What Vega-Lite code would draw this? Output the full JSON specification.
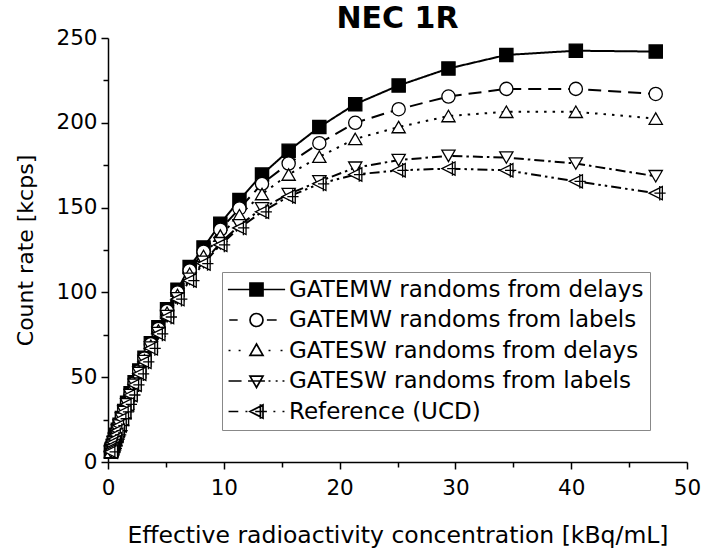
{
  "$schema": "https://vega.github.io/schema/vega-lite/v6.json",
  "autosize": {"type": "none"},
  "width": 579,
  "height": 424,
  "padding": {"left": 108, "top": 38, "right": 22, "bottom": 93},
  "config": {
    "font": "DejaVu Sans",
    "view": {"stroke": null},
    "axis": {"domainColor": "black", "domainWidth": 1.5, "tickColor": "black", "tickWidth": 1.5, "labelColor": "black", "titleColor": "black", "labelFont": "DejaVu Sans", "titleFont": "DejaVu Sans", "labelFontSize": 21.5, "titleFontSize": 22, "titleFontWeight": "normal", "grid": false, "labelFlush": false, "labelOverlap": false}
  },
  "title": {"text": "NEC 1R", "font": "DejaVu Sans", "fontSize": 30, "fontWeight": "bold", "color": "black", "anchor": "middle", "baseline": "alphabetic", "offset": -31},
  "data": {"values": [
    {"conc": 47.3, "rate": 242, "series": "GATEMW randoms from delays"},
    {"conc": 40.4, "rate": 242.5, "series": "GATEMW randoms from delays"},
    {"conc": 34.4, "rate": 240, "series": "GATEMW randoms from delays"},
    {"conc": 29.4, "rate": 232, "series": "GATEMW randoms from delays"},
    {"conc": 25.1, "rate": 222, "series": "GATEMW randoms from delays"},
    {"conc": 21.35, "rate": 211, "series": "GATEMW randoms from delays"},
    {"conc": 18.25, "rate": 197.5, "series": "GATEMW randoms from delays"},
    {"conc": 15.6, "rate": 183.5, "series": "GATEMW randoms from delays"},
    {"conc": 13.3, "rate": 169.5, "series": "GATEMW randoms from delays"},
    {"conc": 11.35, "rate": 154.5, "series": "GATEMW randoms from delays"},
    {"conc": 9.7, "rate": 140.5, "series": "GATEMW randoms from delays"},
    {"conc": 8.25, "rate": 126.5, "series": "GATEMW randoms from delays"},
    {"conc": 7.05, "rate": 115, "series": "GATEMW randoms from delays"},
    {"conc": 6.0, "rate": 101.5, "series": "GATEMW randoms from delays"},
    {"conc": 5.1, "rate": 90, "series": "GATEMW randoms from delays"},
    {"conc": 4.35, "rate": 79.5, "series": "GATEMW randoms from delays"},
    {"conc": 3.7, "rate": 70, "series": "GATEMW randoms from delays"},
    {"conc": 3.15, "rate": 61.5, "series": "GATEMW randoms from delays"},
    {"conc": 2.7, "rate": 54, "series": "GATEMW randoms from delays"},
    {"conc": 2.3, "rate": 47, "series": "GATEMW randoms from delays"},
    {"conc": 1.95, "rate": 40.5, "series": "GATEMW randoms from delays"},
    {"conc": 1.65, "rate": 35, "series": "GATEMW randoms from delays"},
    {"conc": 1.4, "rate": 30, "series": "GATEMW randoms from delays"},
    {"conc": 1.2, "rate": 26, "series": "GATEMW randoms from delays"},
    {"conc": 1.0, "rate": 22, "series": "GATEMW randoms from delays"},
    {"conc": 0.85, "rate": 19, "series": "GATEMW randoms from delays"},
    {"conc": 0.72, "rate": 16, "series": "GATEMW randoms from delays"},
    {"conc": 0.6, "rate": 13.5, "series": "GATEMW randoms from delays"},
    {"conc": 0.5, "rate": 11.5, "series": "GATEMW randoms from delays"},
    {"conc": 0.42, "rate": 9.5, "series": "GATEMW randoms from delays"},
    {"conc": 0.35, "rate": 8, "series": "GATEMW randoms from delays"},
    {"conc": 0.3, "rate": 7, "series": "GATEMW randoms from delays"},
    {"conc": 0.25, "rate": 6, "series": "GATEMW randoms from delays"},

    {"conc": 47.3, "rate": 217, "series": "GATEMW randoms from labels"},
    {"conc": 40.4, "rate": 220, "series": "GATEMW randoms from labels"},
    {"conc": 34.4, "rate": 220, "series": "GATEMW randoms from labels"},
    {"conc": 29.4, "rate": 215.5, "series": "GATEMW randoms from labels"},
    {"conc": 25.1, "rate": 208, "series": "GATEMW randoms from labels"},
    {"conc": 21.35, "rate": 200, "series": "GATEMW randoms from labels"},
    {"conc": 18.25, "rate": 188, "series": "GATEMW randoms from labels"},
    {"conc": 15.6, "rate": 176, "series": "GATEMW randoms from labels"},
    {"conc": 13.3, "rate": 164, "series": "GATEMW randoms from labels"},
    {"conc": 11.35, "rate": 149.5, "series": "GATEMW randoms from labels"},
    {"conc": 9.7, "rate": 137, "series": "GATEMW randoms from labels"},
    {"conc": 8.25, "rate": 124, "series": "GATEMW randoms from labels"},
    {"conc": 7.05, "rate": 113, "series": "GATEMW randoms from labels"},
    {"conc": 6.0, "rate": 100, "series": "GATEMW randoms from labels"},
    {"conc": 5.1, "rate": 89, "series": "GATEMW randoms from labels"},
    {"conc": 4.35, "rate": 78.5, "series": "GATEMW randoms from labels"},
    {"conc": 3.7, "rate": 69.5, "series": "GATEMW randoms from labels"},
    {"conc": 3.15, "rate": 61, "series": "GATEMW randoms from labels"},
    {"conc": 2.7, "rate": 53.5, "series": "GATEMW randoms from labels"},
    {"conc": 2.3, "rate": 46.5, "series": "GATEMW randoms from labels"},
    {"conc": 1.95, "rate": 40, "series": "GATEMW randoms from labels"},
    {"conc": 1.65, "rate": 34.5, "series": "GATEMW randoms from labels"},
    {"conc": 1.4, "rate": 30, "series": "GATEMW randoms from labels"},
    {"conc": 1.2, "rate": 26, "series": "GATEMW randoms from labels"},
    {"conc": 1.0, "rate": 22, "series": "GATEMW randoms from labels"},
    {"conc": 0.85, "rate": 19, "series": "GATEMW randoms from labels"},
    {"conc": 0.72, "rate": 16, "series": "GATEMW randoms from labels"},
    {"conc": 0.6, "rate": 13.5, "series": "GATEMW randoms from labels"},
    {"conc": 0.5, "rate": 11.5, "series": "GATEMW randoms from labels"},
    {"conc": 0.42, "rate": 9.5, "series": "GATEMW randoms from labels"},
    {"conc": 0.35, "rate": 8, "series": "GATEMW randoms from labels"},
    {"conc": 0.3, "rate": 7, "series": "GATEMW randoms from labels"},
    {"conc": 0.25, "rate": 6, "series": "GATEMW randoms from labels"},

    {"conc": 47.3, "rate": 202.5, "series": "GATESW randoms from delays"},
    {"conc": 40.4, "rate": 206.5, "series": "GATESW randoms from delays"},
    {"conc": 34.4, "rate": 206.5, "series": "GATESW randoms from delays"},
    {"conc": 29.4, "rate": 204, "series": "GATESW randoms from delays"},
    {"conc": 25.1, "rate": 197.5, "series": "GATESW randoms from delays"},
    {"conc": 21.35, "rate": 190.5, "series": "GATESW randoms from delays"},
    {"conc": 18.25, "rate": 180, "series": "GATESW randoms from delays"},
    {"conc": 15.6, "rate": 169.5, "series": "GATESW randoms from delays"},
    {"conc": 13.3, "rate": 158, "series": "GATESW randoms from delays"},
    {"conc": 11.35, "rate": 145.5, "series": "GATESW randoms from delays"},
    {"conc": 9.7, "rate": 133.5, "series": "GATESW randoms from delays"},
    {"conc": 8.25, "rate": 121.5, "series": "GATESW randoms from delays"},
    {"conc": 7.05, "rate": 111, "series": "GATESW randoms from delays"},
    {"conc": 6.0, "rate": 98.5, "series": "GATESW randoms from delays"},
    {"conc": 5.1, "rate": 88, "series": "GATESW randoms from delays"},
    {"conc": 4.35, "rate": 77.5, "series": "GATESW randoms from delays"},
    {"conc": 3.7, "rate": 68.5, "series": "GATESW randoms from delays"},
    {"conc": 3.15, "rate": 60, "series": "GATESW randoms from delays"},
    {"conc": 2.7, "rate": 53, "series": "GATESW randoms from delays"},
    {"conc": 2.3, "rate": 46, "series": "GATESW randoms from delays"},
    {"conc": 1.95, "rate": 40, "series": "GATESW randoms from delays"},
    {"conc": 1.65, "rate": 34.5, "series": "GATESW randoms from delays"},
    {"conc": 1.4, "rate": 29.5, "series": "GATESW randoms from delays"},
    {"conc": 1.2, "rate": 25.5, "series": "GATESW randoms from delays"},
    {"conc": 1.0, "rate": 21.5, "series": "GATESW randoms from delays"},
    {"conc": 0.85, "rate": 18.5, "series": "GATESW randoms from delays"},
    {"conc": 0.72, "rate": 16, "series": "GATESW randoms from delays"},
    {"conc": 0.6, "rate": 13.5, "series": "GATESW randoms from delays"},
    {"conc": 0.5, "rate": 11.5, "series": "GATESW randoms from delays"},
    {"conc": 0.42, "rate": 9.5, "series": "GATESW randoms from delays"},
    {"conc": 0.35, "rate": 8, "series": "GATESW randoms from delays"},
    {"conc": 0.3, "rate": 7, "series": "GATESW randoms from delays"},
    {"conc": 0.25, "rate": 6, "series": "GATESW randoms from delays"},

    {"conc": 47.3, "rate": 168.5, "series": "GATESW randoms from labels"},
    {"conc": 40.4, "rate": 176, "series": "GATESW randoms from labels"},
    {"conc": 34.4, "rate": 179.5, "series": "GATESW randoms from labels"},
    {"conc": 29.4, "rate": 180.5, "series": "GATESW randoms from labels"},
    {"conc": 25.1, "rate": 178, "series": "GATESW randoms from labels"},
    {"conc": 21.35, "rate": 173.5, "series": "GATESW randoms from labels"},
    {"conc": 18.25, "rate": 165.5, "series": "GATESW randoms from labels"},
    {"conc": 15.6, "rate": 158, "series": "GATESW randoms from labels"},
    {"conc": 13.3, "rate": 149.5, "series": "GATESW randoms from labels"},
    {"conc": 11.35, "rate": 139.5, "series": "GATESW randoms from labels"},
    {"conc": 9.7, "rate": 129, "series": "GATESW randoms from labels"},
    {"conc": 8.25, "rate": 118, "series": "GATESW randoms from labels"},
    {"conc": 7.05, "rate": 108, "series": "GATESW randoms from labels"},
    {"conc": 6.0, "rate": 96.5, "series": "GATESW randoms from labels"},
    {"conc": 5.1, "rate": 86, "series": "GATESW randoms from labels"},
    {"conc": 4.35, "rate": 76, "series": "GATESW randoms from labels"},
    {"conc": 3.7, "rate": 67.5, "series": "GATESW randoms from labels"},
    {"conc": 3.15, "rate": 59.5, "series": "GATESW randoms from labels"},
    {"conc": 2.7, "rate": 52.5, "series": "GATESW randoms from labels"},
    {"conc": 2.3, "rate": 45.5, "series": "GATESW randoms from labels"},
    {"conc": 1.95, "rate": 39.5, "series": "GATESW randoms from labels"},
    {"conc": 1.65, "rate": 34, "series": "GATESW randoms from labels"},
    {"conc": 1.4, "rate": 29.5, "series": "GATESW randoms from labels"},
    {"conc": 1.2, "rate": 25.5, "series": "GATESW randoms from labels"},
    {"conc": 1.0, "rate": 21.5, "series": "GATESW randoms from labels"},
    {"conc": 0.85, "rate": 18.5, "series": "GATESW randoms from labels"},
    {"conc": 0.72, "rate": 16, "series": "GATESW randoms from labels"},
    {"conc": 0.6, "rate": 13.5, "series": "GATESW randoms from labels"},
    {"conc": 0.5, "rate": 11.5, "series": "GATESW randoms from labels"},
    {"conc": 0.42, "rate": 9.5, "series": "GATESW randoms from labels"},
    {"conc": 0.35, "rate": 8, "series": "GATESW randoms from labels"},
    {"conc": 0.3, "rate": 7, "series": "GATESW randoms from labels"},
    {"conc": 0.25, "rate": 6, "series": "GATESW randoms from labels"},

    {"conc": 47.3, "rate": 158.5, "series": "Reference (UCD)"},
    {"conc": 40.4, "rate": 165.5, "series": "Reference (UCD)"},
    {"conc": 34.4, "rate": 172, "series": "Reference (UCD)"},
    {"conc": 29.4, "rate": 173, "series": "Reference (UCD)"},
    {"conc": 25.1, "rate": 172, "series": "Reference (UCD)"},
    {"conc": 21.35, "rate": 169.5, "series": "Reference (UCD)"},
    {"conc": 18.25, "rate": 164, "series": "Reference (UCD)"},
    {"conc": 15.6, "rate": 156.5, "series": "Reference (UCD)"},
    {"conc": 13.3, "rate": 147.5, "series": "Reference (UCD)"},
    {"conc": 11.35, "rate": 138, "series": "Reference (UCD)"},
    {"conc": 9.7, "rate": 128, "series": "Reference (UCD)"},
    {"conc": 8.25, "rate": 117, "series": "Reference (UCD)"},
    {"conc": 7.05, "rate": 107, "series": "Reference (UCD)"},
    {"conc": 6.0, "rate": 96, "series": "Reference (UCD)"},
    {"conc": 5.1, "rate": 85.5, "series": "Reference (UCD)"},
    {"conc": 4.35, "rate": 75.5, "series": "Reference (UCD)"},
    {"conc": 3.7, "rate": 67, "series": "Reference (UCD)"},
    {"conc": 3.15, "rate": 59, "series": "Reference (UCD)"},
    {"conc": 2.7, "rate": 52, "series": "Reference (UCD)"},
    {"conc": 2.3, "rate": 45.5, "series": "Reference (UCD)"},
    {"conc": 1.95, "rate": 39.5, "series": "Reference (UCD)"},
    {"conc": 1.65, "rate": 34, "series": "Reference (UCD)"},
    {"conc": 1.4, "rate": 29.5, "series": "Reference (UCD)"},
    {"conc": 1.2, "rate": 25.5, "series": "Reference (UCD)"},
    {"conc": 1.0, "rate": 21.5, "series": "Reference (UCD)"},
    {"conc": 0.85, "rate": 18.5, "series": "Reference (UCD)"},
    {"conc": 0.72, "rate": 16, "series": "Reference (UCD)"},
    {"conc": 0.6, "rate": 13.5, "series": "Reference (UCD)"},
    {"conc": 0.5, "rate": 11.5, "series": "Reference (UCD)"},
    {"conc": 0.42, "rate": 9.5, "series": "Reference (UCD)"},
    {"conc": 0.35, "rate": 8, "series": "Reference (UCD)"},
    {"conc": 0.3, "rate": 7, "series": "Reference (UCD)"},
    {"conc": 0.25, "rate": 6, "series": "Reference (UCD)"}
  ]},
  "encoding": {
    "x": {"field": "conc", "type": "quantitative", "scale": {"domain": [0, 50], "nice": false},
      "axis": {"title": "Effective radioactivity concentration [kBq/mL]", "titleFontSize": 23.5, "values": [0,5,10,15,20,25,30,35,40,45,50], "labelExpr": "datum.value % 10 === 0 ? datum.label : ''", "tickSize": {"condition": {"test": "datum.value % 10 === 0", "value": 7}, "value": 5}, "labelPadding": 8, "titlePadding": 25}},
    "y": {"field": "rate", "type": "quantitative", "scale": {"domain": [0, 250], "nice": false},
      "axis": {"title": "Count rate [kcps]", "values": [0,25,50,75,100,125,150,175,200,225,250], "labelExpr": "datum.value % 50 === 0 ? datum.label : ''", "tickSize": {"condition": {"test": "datum.value % 50 === 0", "value": 7}, "value": 5}, "labelPadding": 4, "titlePadding": 18}}
  },
  "layer": [
    {
      "mark": {"type": "line", "color": "black", "strokeWidth": 2},
      "encoding": {
        "detail": {"field": "series"},
        "strokeDash": {"field": "series", "type": "nominal", "legend": null,
          "scale": {"domain": ["GATEMW randoms from delays", "GATEMW randoms from labels", "GATESW randoms from delays", "GATESW randoms from labels", "Reference (UCD)"],
            "range": [[1, 0], [13, 7], [2.5, 6], [10, 4, 2.5, 4], [10, 4, 2.5, 4, 2.5, 4]]}}
      }
    },
    {
      "mark": {"type": "point", "filled": true, "stroke": "black", "strokeWidth": 1.3, "size": 175, "opacity": 1},
      "encoding": {
        "shape": {"field": "series", "type": "nominal", "legend": null,
          "scale": {"domain": ["GATEMW randoms from delays", "GATEMW randoms from labels", "GATESW randoms from delays", "GATESW randoms from labels", "Reference (UCD)"],
            "range": ["square", "circle", "triangle-up", "triangle-down", "M-1,0L1,-1L1,1Z M-0.2,0L1.5,0 M0.6,-1.1L0.6,1.1"]}},
        "fill": {"field": "series", "type": "nominal", "legend": null,
          "scale": {"domain": ["GATEMW randoms from delays", "GATEMW randoms from labels", "GATESW randoms from delays", "GATESW randoms from labels", "Reference (UCD)"],
            "range": ["black", "white", "white", "white", "white"]}}
      }
    },
    {
      "transform": [{"filter": "false"}],
      "mark": {"type": "point", "filled": true, "strokeWidth": 1.7, "size": 169, "opacity": 1},
      "encoding": {
        "shape": {"field": "series", "type": "nominal",
          "scale": {"domain": ["GATEMW randoms from delays", "GATEMW randoms from labels", "GATESW randoms from delays", "GATESW randoms from labels", "Reference (UCD)"],
            "range": [
              "M-4.4,0L-1,0M1,0L4.4,0M-1,-1L1,-1L1,1L-1,1Z",
              "M-4.2,0L-2.9,0M1.6,0L3.1,0M1,0A1,1 0 1,1 -1,0A1,1 0 1,1 1,0Z",
              "M-4.3,0L-4.0,0M-2.75,0L-2.45,0M1.85,0L2.15,0M3.7,0L4.0,0M0,-1L1,0.75L-1,0.75Z",
              "M-4.3,0L-2.3,0M-1.3,0L1.3,0M1.85,0L2.15,0M2.95,0L3.25,0M4.0,0L4.3,0M0,1L1,-0.75L-1,-0.75Z",
              "M-4.3,0L-2.8,0M-1.7,0L-1.4,0M2.6,0L2.9,0M4.0,0L4.3,0M-1,0L1,-1L1,1Z M-0.2,0L1.6,0M0.6,-1.1L0.6,1.1"
            ]},
          "legend": {"title": null, "orient": "none", "legendX": 114, "legendY": 234, "padding": 6, "strokeColor": "#888", "fillColor": "white", "labelFont": "DejaVu Sans", "labelFontSize": 23, "labelColor": "black", "labelLimit": 600, "symbolSize": 169, "symbolStrokeColor": "black", "symbolStrokeWidth": 1.7, "symbolOffset": 17, "labelOffset": 21, "rowPadding": 6.5}},
        "fill": {"field": "series", "type": "nominal",
          "scale": {"domain": ["GATEMW randoms from delays", "GATEMW randoms from labels", "GATESW randoms from delays", "GATESW randoms from labels", "Reference (UCD)"],
            "range": ["black", "white", "white", "white", "white"]},
          "legend": {"title": null, "orient": "none", "legendX": 114, "legendY": 234, "padding": 6, "strokeColor": "#888", "fillColor": "white", "labelFont": "DejaVu Sans", "labelFontSize": 23, "labelColor": "black", "labelLimit": 600, "symbolSize": 169, "symbolStrokeColor": "black", "symbolStrokeWidth": 1.7, "symbolOffset": 17, "labelOffset": 21, "rowPadding": 6.5}},
        "stroke": {"field": "series", "type": "nominal",
          "scale": {"domain": ["GATEMW randoms from delays", "GATEMW randoms from labels", "GATESW randoms from delays", "GATESW randoms from labels", "Reference (UCD)"],
            "range": ["black", "black", "black", "black", "black"]},
          "legend": {"title": null, "orient": "none", "legendX": 114, "legendY": 234, "padding": 6, "strokeColor": "#888", "fillColor": "white", "labelFont": "DejaVu Sans", "labelFontSize": 23, "labelColor": "black", "labelLimit": 600, "symbolSize": 169, "symbolStrokeColor": "black", "symbolStrokeWidth": 1.7, "symbolOffset": 17, "labelOffset": 21, "rowPadding": 6.5}}
      }
    }
  ],
  "resolve": {"scale": {"shape": "independent", "fill": "independent", "stroke": "independent"}, "legend": {"shape": "independent", "fill": "independent", "stroke": "independent"}}
}
